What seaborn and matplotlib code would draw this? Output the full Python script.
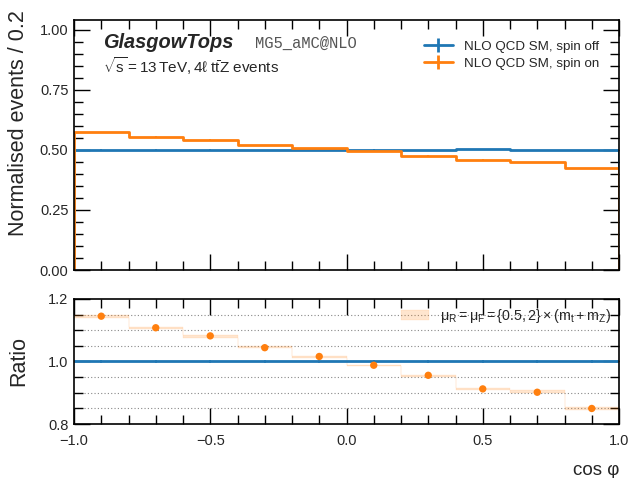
import numpy as np
import pandas as pd
import matplotlib
matplotlib.use("Agg")
import matplotlib.pyplot as plt
import seaborn as sns
from matplotlib.ticker import MultipleLocator

# ---------------- data ----------------
edges = [-1.0, -0.8, -0.6, -0.4, -0.2, 0.0, 0.2, 0.4, 0.6, 0.8, 1.0]
spin_off = [0.500, 0.500, 0.500, 0.498, 0.498, 0.501, 0.498, 0.502, 0.498, 0.499]
spin_on = [0.5725, 0.554, 0.541, 0.520, 0.506, 0.495, 0.476, 0.458, 0.449, 0.424]
stat_err = [0.002, 0.002, 0.002, 0.002, 0.002, 0.002, 0.002, 0.002, 0.002, 0.002]
scale_lo = [1.139, 1.104, 1.076, 1.043, 1.012, 0.986, 0.951, 0.910, 0.898, 0.846]
scale_hi = [1.149, 1.110, 1.085, 1.049, 1.019, 0.990, 0.958, 0.916, 0.909, 0.853]
labels = ["NLO QCD SM, spin off", "NLO QCD SM, spin on"]
band_label = r"$\mu_R = \mu_F = \{0.5,2\}\times(m_t+m_Z)$"

sns.set_theme(style="ticks")
plt.rcParams["font.family"] = ["Liberation Sans", "DejaVu Sans"]
plt.rcParams["mathtext.fontset"] = "custom"
plt.rcParams["mathtext.rm"] = "Liberation Sans"
plt.rcParams["mathtext.it"] = "Liberation Sans:italic"
plt.rcParams["mathtext.bf"] = "Liberation Sans:bold"
plt.rcParams["mathtext.default"] = "regular"
plt.rcParams["axes.unicode_minus"] = True

BLUE = "#1f77b4"
ORANGE = "#ff7f0e"

e = np.array(edges)
centers = 0.5 * (e[:-1] + e[1:])
off = np.array(spin_off)
on = np.array(spin_on)
err = np.array(stat_err)

fig = plt.figure(figsize=(6.29, 4.78), dpi=100)
ax = fig.add_axes([74 / 629, 1 - 270 / 478, 545 / 629, 250 / 478])
rax = fig.add_axes([74 / 629, 1 - 424 / 478, 545 / 629, 125 / 478])

df = pd.DataFrame({"x": np.concatenate([centers, centers]),
                   "w": np.concatenate([off, on]),
                   "sample": [labels[0]] * 10 + [labels[1]] * 10})

for lab, col, vals in [(labels[0], BLUE, off), (labels[1], ORANGE, on)]:
    sub = df[df["sample"] == lab]
    sns.histplot(data=sub, x="x", weights="w", bins=edges, element="step",
                 fill=False, color=col, linewidth=2, ax=ax, legend=False)
    ax.vlines([e[0], e[-1]], 0, [vals[0], vals[-1]], color=col, lw=2)
    ax.errorbar(centers, vals, yerr=err, ls="none", color=col, lw=1.2)

# legend proxies (errorbar-style handles)
h_off = ax.errorbar([np.nan], [np.nan], yerr=[1], color=BLUE, lw=2)
h_on = ax.errorbar([np.nan], [np.nan], yerr=[1], color=ORANGE, lw=2)
ax.legend([h_off, h_on], labels, loc="upper right", fontsize=9.6, frameon=False,
          handlelength=2.2, handletextpad=0.8, borderaxespad=0.0, labelspacing=0.35,
          bbox_to_anchor=(0.973, 0.94))

ax.set_xlim(-1, 1)
ax.set_ylim(0, 1.04)
ax.yaxis.set_major_locator(MultipleLocator(0.25))
ax.yaxis.set_minor_locator(MultipleLocator(0.05))
ax.set_xlabel("")
ax.set_ylabel("Normalised events / 0.2", fontsize=15.5, loc="top")
ax.yaxis.set_label_coords(-0.083, 1.04)

ax.text(0.053, 0.888, "GlasgowTops", transform=ax.transAxes, fontsize=14.4,
        fontweight="bold", fontstyle="italic")
ax.text(0.333, 0.888, "MG5_aMC@NLO", transform=ax.transAxes, fontsize=11.2,
        family="Liberation Mono", color="#555555")
ax.text(0.053, 0.788, r"$\sqrt{s}=13\,$TeV$,4\ell\ t\bar{t}Z$ events",
        transform=ax.transAxes, fontsize=11.0)

# ---------------- ratio ----------------
ratio_on = on / off
ratio_off = off / off
rdf = pd.DataFrame({"x": centers, "r": ratio_on})
rax.fill_between(e, np.append(scale_lo, scale_lo[-1]), np.append(scale_hi, scale_hi[-1]),
                 step="post", color=ORANGE, alpha=0.2, lw=0.3, label=band_label)
sns.histplot(x=centers, weights=ratio_off, bins=edges, element="step", fill=False,
             color=BLUE, linewidth=2, ax=rax, legend=False)
rax.errorbar(centers, ratio_off, yerr=err / off, ls="none", color=BLUE, lw=1.2)
sns.scatterplot(data=rdf, x="x", y="r", color=ORANGE, s=28, edgecolor="none", ax=rax,
                zorder=5, legend=False)

rax.set_xlim(-1, 1)
rax.set_ylim(0.8, 1.2)
rax.yaxis.set_major_locator(MultipleLocator(0.2))
rax.yaxis.set_minor_locator(MultipleLocator(0.05))
rax.grid(axis="y", which="minor", ls=(0, (1, 2)), color="#888888", lw=0.8)
rax.set_ylabel("Ratio", fontsize=15.5)
rax.yaxis.set_label_coords(-0.083, 0.5)
rax.set_xlabel("cos φ", fontsize=13.5, loc="right", labelpad=10)
rax.legend(loc="upper right", fontsize=10.3, frameon=False, handlelength=1.96,
           handleheight=0.7, handletextpad=0.76, borderaxespad=0.0,
           bbox_to_anchor=(0.996, 0.984))

for a in (ax, rax):
    a.xaxis.set_major_locator(MultipleLocator(0.5))
    a.xaxis.set_minor_locator(MultipleLocator(0.1))
    a.tick_params(which="both", direction="in", top=True, right=True, width=1.0,
                  labelsize=10.5, color="black")
    a.tick_params(which="major", length=11.5)
    a.tick_params(which="minor", length=6.5)
    a.tick_params(axis="x", pad=7)
    a.tick_params(axis="y", pad=4)
    for s in a.spines.values():
        s.set_linewidth(1.2)
        s.set_color("black")
ax.tick_params(labelbottom=False)

fig.savefig("out.png", dpi=100)
